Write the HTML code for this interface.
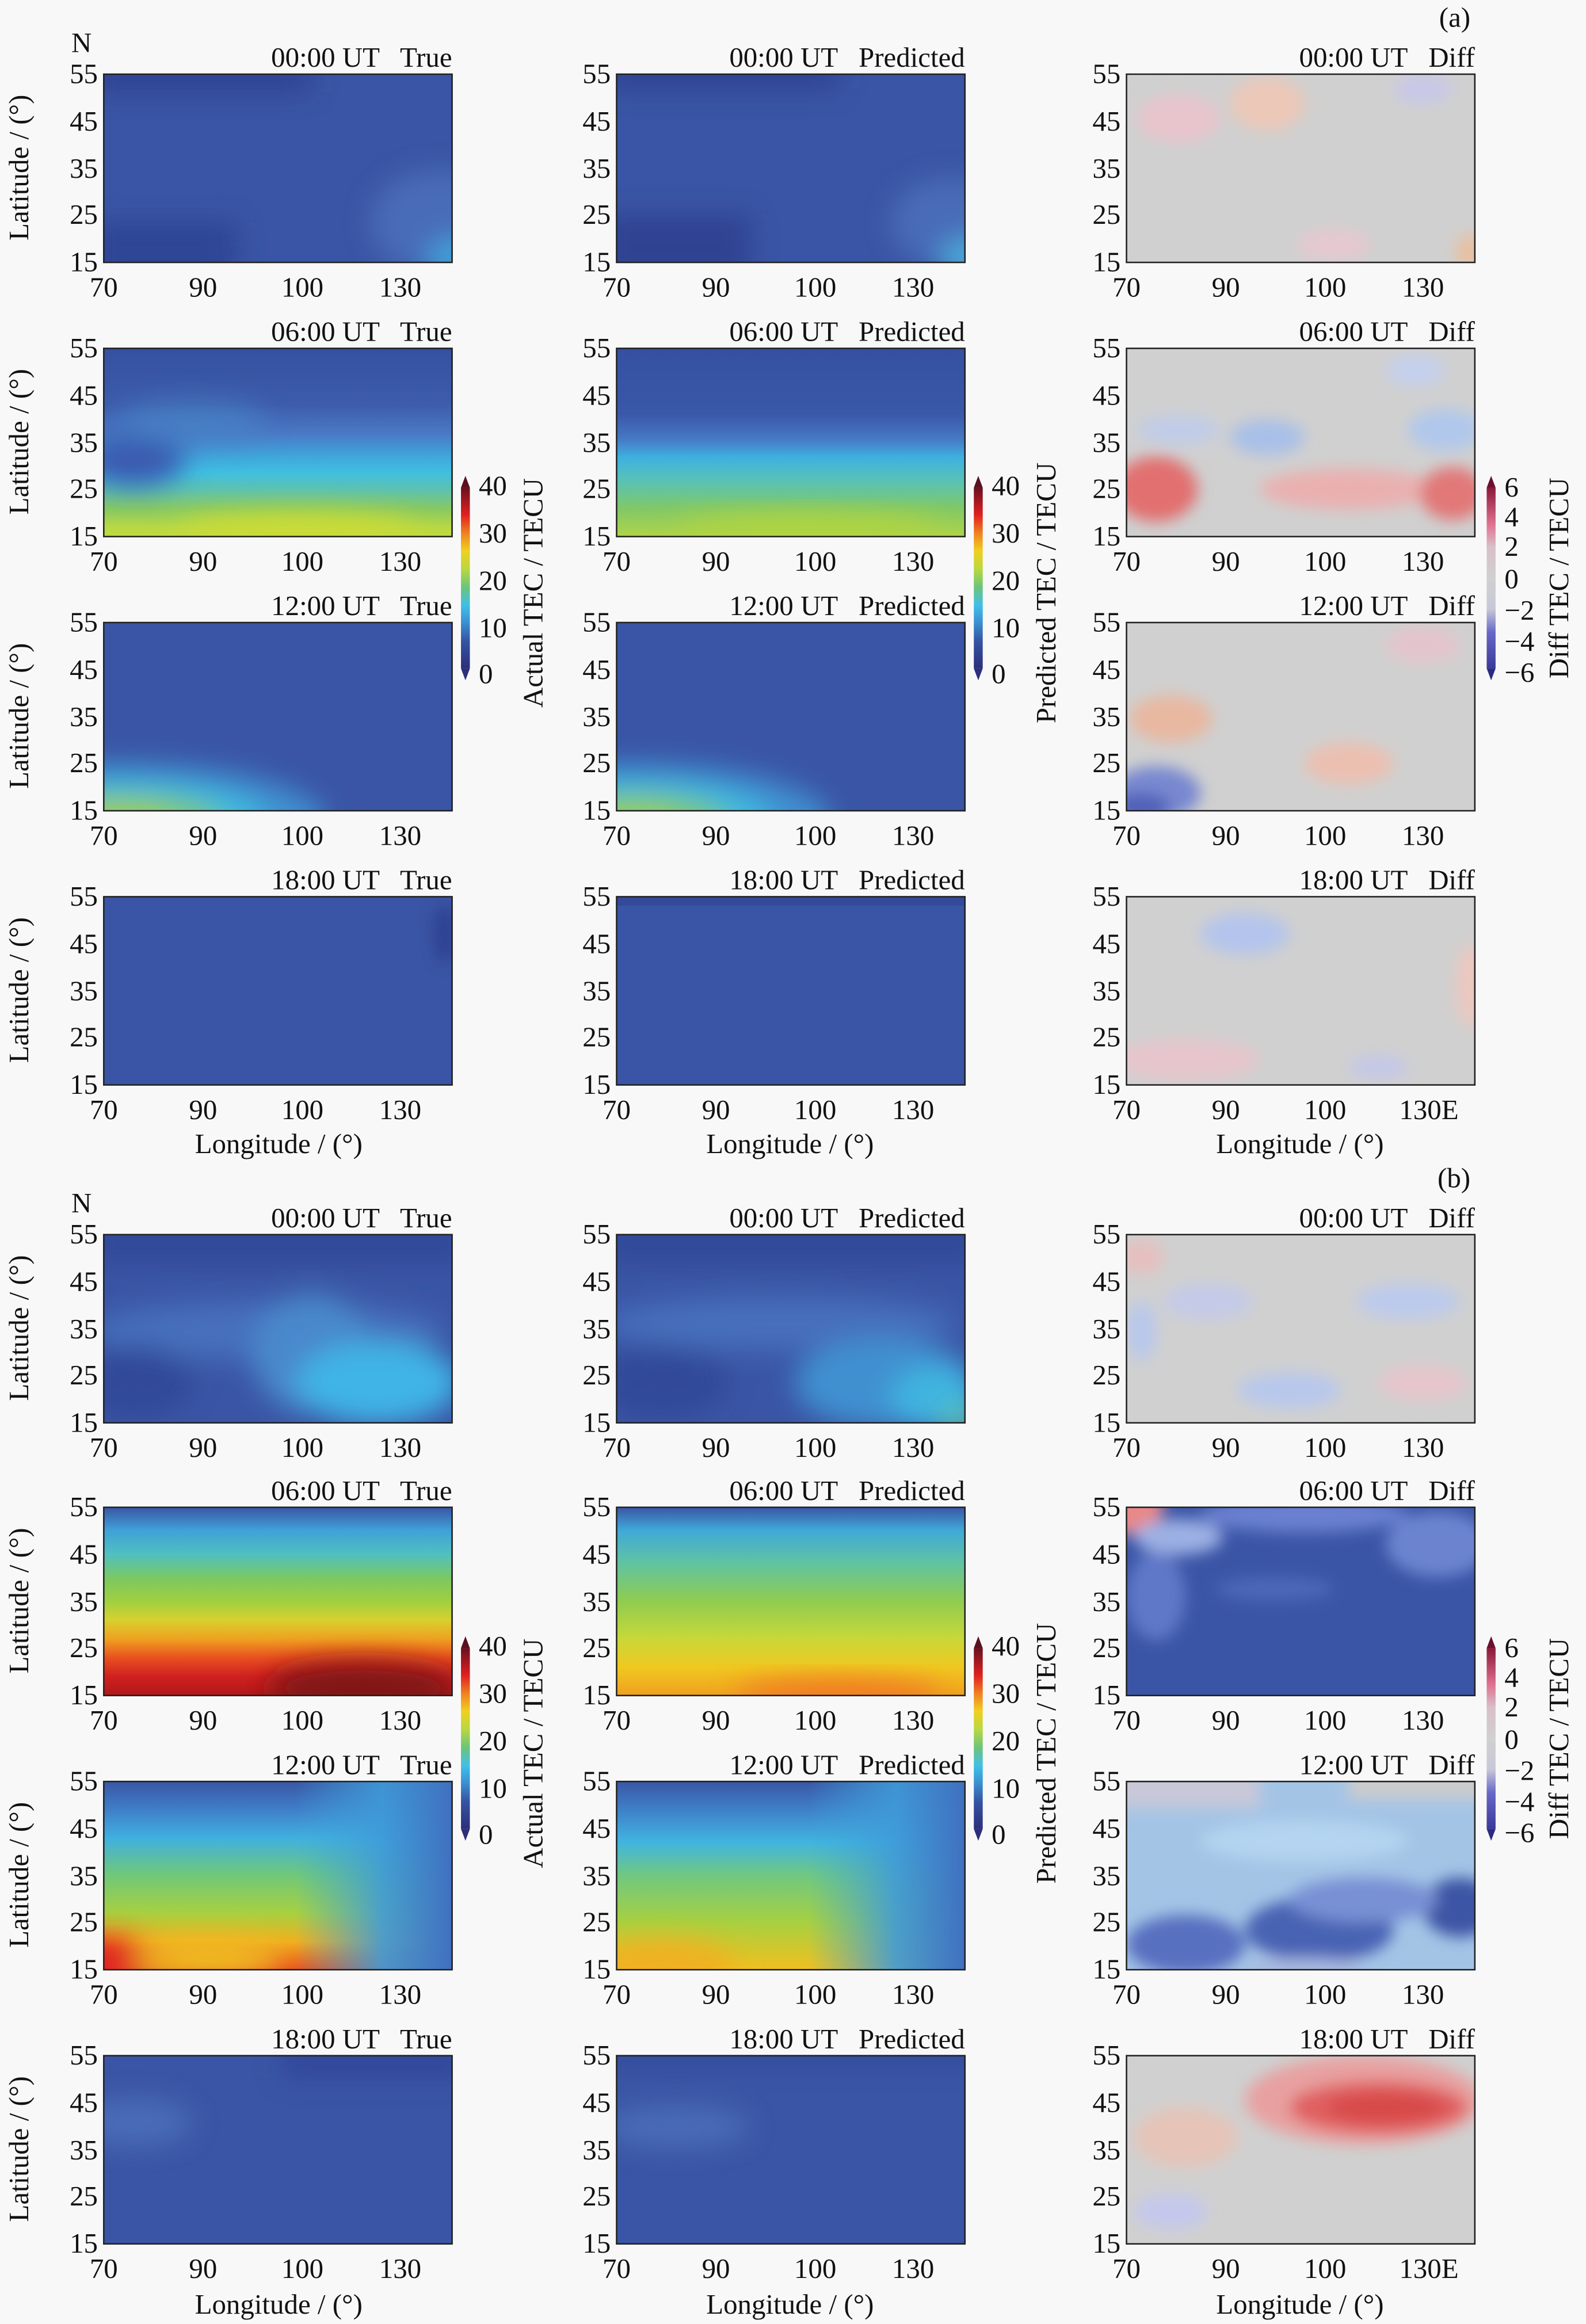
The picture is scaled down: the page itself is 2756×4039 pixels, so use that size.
<!DOCTYPE html>
<html><head><meta charset="utf-8"><style>
html,body{margin:0;padding:0;background:#f8f8f8}
svg{display:block}
text{font-family:"Liberation Serif","Times New Roman",serif;fill:#111;white-space:pre}
.ti{text-anchor:end}
.yl{text-anchor:end}
.xl{text-anchor:middle}
</style></head><body>
<svg width="2756" height="4039" viewBox="0 0 1070 1568" xmlns="http://www.w3.org/2000/svg" font-family="Liberation Serif, serif" xml:space="preserve">
<defs>
<clipPath id="c"><rect x="0" y="0" width="235" height="127"/></clipPath>
<filter id="b" x="-50%" y="-50%" width="200%" height="200%"><feGaussianBlur stdDeviation="9"/></filter>
<filter id="b2" x="-50%" y="-50%" width="200%" height="200%"><feGaussianBlur stdDeviation="5"/></filter>
<linearGradient id="jet" x1="0" y1="1" x2="0" y2="0">
<stop offset="0" stop-color="#2c2f7a"/><stop offset="0.15" stop-color="#3553a3"/><stop offset="0.25" stop-color="#3a8ed0"/><stop offset="0.35" stop-color="#40c0e8"/><stop offset="0.45" stop-color="#6cc47a"/><stop offset="0.55" stop-color="#b8d840"/><stop offset="0.65" stop-color="#f0d020"/><stop offset="0.75" stop-color="#f08020"/><stop offset="0.85" stop-color="#e02020"/><stop offset="1" stop-color="#6a1020"/></linearGradient>
<linearGradient id="dif" x1="0" y1="1" x2="0" y2="0">
<stop offset="0" stop-color="#3a3a9a"/><stop offset="0.2" stop-color="#6868c8"/><stop offset="0.33" stop-color="#c8c8d8"/><stop offset="0.5" stop-color="#d0d0d0"/><stop offset="0.67" stop-color="#d8c0c8"/><stop offset="0.8" stop-color="#e07090"/><stop offset="1" stop-color="#8a1838"/></linearGradient>
<linearGradient id="a2t" x1="0" y1="0" x2="0" y2="1"><stop offset="0" stop-color="#3550a0"/><stop offset="0.3" stop-color="#3d5cab"/><stop offset="0.45" stop-color="#4a78c4"/><stop offset="0.58" stop-color="#3fa8dc"/><stop offset="0.66" stop-color="#40bfe0"/><stop offset="0.75" stop-color="#5cc2b0"/><stop offset="0.85" stop-color="#86c864"/><stop offset="0.95" stop-color="#b8d844"/><stop offset="1" stop-color="#c0da40"/></linearGradient>
<linearGradient id="a2p" x1="0" y1="0" x2="0" y2="1"><stop offset="0" stop-color="#3550a0"/><stop offset="0.35" stop-color="#3a58a8"/><stop offset="0.48" stop-color="#4678c4"/><stop offset="0.58" stop-color="#3fb0e0"/><stop offset="0.7" stop-color="#58c2b8"/><stop offset="0.85" stop-color="#80c868"/><stop offset="1" stop-color="#b0d448"/></linearGradient>
<linearGradient id="b2t" x1="0" y1="0" x2="0" y2="1"><stop offset="0" stop-color="#3a56a5"/><stop offset="0.12" stop-color="#3fa0d8"/><stop offset="0.25" stop-color="#50c0c0"/><stop offset="0.38" stop-color="#7cc860"/><stop offset="0.5" stop-color="#a0d040"/><stop offset="0.6" stop-color="#d8d030"/><stop offset="0.7" stop-color="#f0a020"/><stop offset="0.8" stop-color="#e85020"/><stop offset="0.9" stop-color="#d02020"/><stop offset="1" stop-color="#b01818"/></linearGradient>
<linearGradient id="b2p" x1="0" y1="0" x2="0" y2="1"><stop offset="0" stop-color="#3a56a5"/><stop offset="0.12" stop-color="#40a8d8"/><stop offset="0.3" stop-color="#60c4a0"/><stop offset="0.5" stop-color="#90cc50"/><stop offset="0.7" stop-color="#c8d838"/><stop offset="0.85" stop-color="#f0c820"/><stop offset="1" stop-color="#f0a020"/></linearGradient>
<linearGradient id="b3t" x1="0" y1="0" x2="0" y2="1"><stop offset="0" stop-color="#3a56a5"/><stop offset="0.15" stop-color="#3f7fc8"/><stop offset="0.3" stop-color="#40b0e0"/><stop offset="0.5" stop-color="#70c878"/><stop offset="0.7" stop-color="#a8d040"/><stop offset="0.85" stop-color="#f0b020"/><stop offset="1" stop-color="#e85020"/></linearGradient>
<linearGradient id="b3p" x1="0" y1="0" x2="0" y2="1"><stop offset="0" stop-color="#3a56a5"/><stop offset="0.15" stop-color="#3f80c8"/><stop offset="0.32" stop-color="#40b4e0"/><stop offset="0.5" stop-color="#70c880"/><stop offset="0.75" stop-color="#a8d040"/><stop offset="1" stop-color="#f0c020"/></linearGradient>
<linearGradient id="rs" x1="0" y1="0" x2="1" y2="0"><stop offset="0.55" stop-color="#3fa8dc" stop-opacity="0"/><stop offset="0.8" stop-color="#3f9ad8" stop-opacity="0.9"/><stop offset="1" stop-color="#4070c0"/></linearGradient>
</defs>

<!-- (a) row1 -->
<g transform="translate(70,50)"><g clip-path="url(#c)">
<rect width="235" height="127" fill="#3a55a5"/>
<g filter="url(#b)"><rect x="-10" y="-10" width="150" height="22" fill="#2e4391"/><rect x="-10" y="100" width="100" height="40" fill="#2f4494"/><ellipse cx="225" cy="100" rx="45" ry="35" fill="#4a6cb8"/><ellipse cx="238" cy="125" rx="20" ry="15" fill="#40a0d8"/></g></g>
<rect width="235" height="127" fill="none" stroke="#222" stroke-width="1"/></g>
<g transform="translate(416,50)"><g clip-path="url(#c)">
<rect width="235" height="127" fill="#3a55a5"/>
<g filter="url(#b)"><rect x="-10" y="-10" width="160" height="20" fill="#2e4391"/><rect x="-10" y="95" width="100" height="45" fill="#2d4291"/><ellipse cx="225" cy="100" rx="40" ry="30" fill="#4a6cb8"/><ellipse cx="238" cy="125" rx="20" ry="15" fill="#48a8d8"/></g></g>
<rect width="235" height="127" fill="none" stroke="#222"/></g>
<g transform="translate(760,50)"><g clip-path="url(#c)">
<rect width="235" height="127" fill="#d0d0d0"/>
<g filter="url(#b2)"><ellipse cx="35" cy="30" rx="28" ry="16" fill="#e8c4cc"/><ellipse cx="95" cy="20" rx="25" ry="18" fill="#ecc8b8"/><ellipse cx="200" cy="10" rx="20" ry="10" fill="#c8c8e8"/><ellipse cx="140" cy="115" rx="25" ry="10" fill="#e6c8d0"/><ellipse cx="232" cy="120" rx="10" ry="12" fill="#e8c0a0"/></g></g>
<rect width="235" height="127" fill="none" stroke="#222"/></g>

<!-- (a) row2 -->
<g transform="translate(70,235)"><g clip-path="url(#c)">
<rect width="235" height="127" fill="url(#a2t)"/>
<g filter="url(#b)"><ellipse cx="20" cy="75" rx="35" ry="18" fill="#3a5ab0"/><ellipse cx="60" cy="50" rx="50" ry="14" fill="#4685c8" opacity="0.7"/><ellipse cx="130" cy="122" rx="80" ry="10" fill="#ccdc34"/></g></g>
<rect width="235" height="127" fill="none" stroke="#222"/></g>
<g transform="translate(416,235)"><g clip-path="url(#c)">
<rect width="235" height="127" fill="url(#a2p)"/>
<g filter="url(#b)"><ellipse cx="130" cy="122" rx="90" ry="10" fill="#b0d440"/></g></g>
<rect width="235" height="127" fill="none" stroke="#222"/></g>
<g transform="translate(760,235)"><g clip-path="url(#c)">
<rect width="235" height="127" fill="#d0d0d0"/>
<g filter="url(#b2)"><ellipse cx="20" cy="95" rx="28" ry="22" fill="#e27070"/><ellipse cx="150" cy="95" rx="60" ry="14" fill="#eab0b0"/><ellipse cx="220" cy="98" rx="22" ry="18" fill="#e27878"/><ellipse cx="95" cy="60" rx="25" ry="12" fill="#a8c0e8"/><ellipse cx="215" cy="55" rx="25" ry="14" fill="#b0c8ec"/><ellipse cx="35" cy="55" rx="28" ry="10" fill="#c0cce8"/><ellipse cx="195" cy="15" rx="20" ry="10" fill="#c4d0ee"/></g></g>
<rect width="235" height="127" fill="none" stroke="#222"/></g>

<!-- (a) row3 -->
<g transform="translate(70,420)"><g clip-path="url(#c)">
<rect width="235" height="127" fill="#3a55a5"/>
<g filter="url(#b)"><ellipse cx="10" cy="135" rx="140" ry="40" fill="#3f90d0"/><ellipse cx="10" cy="135" rx="100" ry="28" fill="#40bce0"/><ellipse cx="10" cy="135" rx="70" ry="18" fill="#7cc860"/><ellipse cx="10" cy="135" rx="40" ry="10" fill="#a8d040"/></g></g>
<rect width="235" height="127" fill="none" stroke="#222"/></g>
<g transform="translate(416,420)"><g clip-path="url(#c)">
<rect width="235" height="127" fill="#3a55a5"/>
<g filter="url(#b)"><ellipse cx="10" cy="135" rx="135" ry="40" fill="#3f90d0"/><ellipse cx="10" cy="135" rx="95" ry="28" fill="#40bce0"/><ellipse cx="10" cy="135" rx="65" ry="18" fill="#7cc860"/><ellipse cx="10" cy="135" rx="35" ry="10" fill="#a0d040"/></g></g>
<rect width="235" height="127" fill="none" stroke="#222"/></g>
<g transform="translate(760,420)"><g clip-path="url(#c)">
<rect width="235" height="127" fill="#d0d0d0"/>
<g filter="url(#b2)"><ellipse cx="30" cy="65" rx="28" ry="16" fill="#e8b8a0"/><ellipse cx="20" cy="115" rx="30" ry="18" fill="#7888d0"/><ellipse cx="10" cy="125" rx="20" ry="10" fill="#5060b8"/><ellipse cx="150" cy="95" rx="30" ry="14" fill="#ecc0b0"/><ellipse cx="200" cy="15" rx="25" ry="12" fill="#e4c4cc"/></g></g>
<rect width="235" height="127" fill="none" stroke="#222"/></g>

<!-- (a) row4 -->
<g transform="translate(70,605)"><g clip-path="url(#c)">
<rect width="235" height="127" fill="#3a55a5"/>
<g filter="url(#b2)"><ellipse cx="230" cy="25" rx="8" ry="20" fill="#2e4391"/></g></g>
<rect width="235" height="127" fill="none" stroke="#222"/></g>
<g transform="translate(416,605)"><g clip-path="url(#c)">
<rect width="235" height="127" fill="#3a55a5"/><rect width="235" height="6" fill="#33499a"/></g>
<rect width="235" height="127" fill="none" stroke="#222"/></g>
<g transform="translate(760,605)"><g clip-path="url(#c)">
<rect width="235" height="127" fill="#d0d0d0"/>
<g filter="url(#b2)"><ellipse cx="80" cy="25" rx="30" ry="14" fill="#b4c4ec"/><ellipse cx="40" cy="110" rx="50" ry="14" fill="#e6c6cc"/><ellipse cx="232" cy="60" rx="10" ry="28" fill="#ecc8c0"/><ellipse cx="170" cy="115" rx="20" ry="8" fill="#c4c8e8"/></g></g>
<rect width="235" height="127" fill="none" stroke="#222"/></g>

<!-- (b) row1 -->
<g transform="translate(70,833)"><g clip-path="url(#c)">
<rect width="235" height="127" fill="#3a55a5"/>
<g filter="url(#b)"><rect x="-10" y="-10" width="260" height="30" fill="#33489a"/><ellipse cx="110" cy="65" rx="120" ry="20" fill="#4670bc"/><ellipse cx="140" cy="80" rx="40" ry="40" fill="#4a88cc"/><ellipse cx="185" cy="100" rx="55" ry="28" fill="#40b4e6"/><ellipse cx="20" cy="100" rx="40" ry="25" fill="#33489a"/></g></g>
<rect width="235" height="127" fill="none" stroke="#222"/></g>
<g transform="translate(416,833)"><g clip-path="url(#c)">
<rect width="235" height="127" fill="#3a55a5"/>
<g filter="url(#b)"><rect x="-10" y="-10" width="260" height="30" fill="#33489a"/><ellipse cx="110" cy="60" rx="120" ry="18" fill="#4670bc"/><ellipse cx="180" cy="100" rx="60" ry="30" fill="#3f90d0"/><ellipse cx="215" cy="110" rx="30" ry="22" fill="#40b4e0"/><ellipse cx="232" cy="125" rx="15" ry="10" fill="#58c0b0"/><ellipse cx="30" cy="100" rx="45" ry="25" fill="#33489a"/></g></g>
<rect width="235" height="127" fill="none" stroke="#222"/></g>
<g transform="translate(760,833)"><g clip-path="url(#c)">
<rect width="235" height="127" fill="#d0d0d0"/>
<g filter="url(#b2)"><ellipse cx="10" cy="15" rx="15" ry="12" fill="#e6c0c0"/><ellipse cx="55" cy="45" rx="30" ry="12" fill="#c4cae8"/><ellipse cx="10" cy="65" rx="10" ry="20" fill="#b8c8ec"/><ellipse cx="110" cy="105" rx="35" ry="12" fill="#b8c8ec"/><ellipse cx="190" cy="45" rx="35" ry="12" fill="#bccaec"/><ellipse cx="200" cy="100" rx="30" ry="12" fill="#e6c6cc"/></g></g>
<rect width="235" height="127" fill="none" stroke="#222"/></g>

<!-- (b) row2 -->
<g transform="translate(70,1017)"><g clip-path="url(#c)">
<rect width="235" height="127" fill="url(#b2t)"/>
<g filter="url(#b)"><ellipse cx="175" cy="122" rx="65" ry="18" fill="#801414"/></g></g>
<rect width="235" height="127" fill="none" stroke="#222"/></g>
<g transform="translate(416,1017)"><g clip-path="url(#c)">
<rect width="235" height="127" fill="url(#b2p)"/>
<g filter="url(#b)"><ellipse cx="150" cy="126" rx="70" ry="10" fill="#f07820"/></g></g>
<rect width="235" height="127" fill="none" stroke="#222"/></g>
<g transform="translate(760,1017)"><g clip-path="url(#c)">
<rect width="235" height="127" fill="#3b55a6"/>
<g filter="url(#b2)"><ellipse cx="0" cy="0" rx="25" ry="18" fill="#e88888"/><ellipse cx="35" cy="20" rx="30" ry="12" fill="#9cb0e4"/><ellipse cx="120" cy="5" rx="70" ry="12" fill="#6a80d0"/><ellipse cx="210" cy="25" rx="35" ry="22" fill="#6c84d0"/><ellipse cx="20" cy="60" rx="20" ry="30" fill="#5e78c8"/><ellipse cx="100" cy="55" rx="40" ry="8" fill="#4e68b8"/></g></g>
<rect width="235" height="127" fill="none" stroke="#222"/></g>

<!-- (b) row3 -->
<g transform="translate(70,1202)"><g clip-path="url(#c)">
<rect width="235" height="127" fill="url(#b3t)"/>
<rect width="235" height="127" fill="url(#rs)"/>
<g filter="url(#b)"><ellipse cx="0" cy="130" rx="45" ry="25" fill="#e02820"/><ellipse cx="70" cy="120" rx="50" ry="12" fill="#f0c020"/></g></g>
<rect width="235" height="127" fill="none" stroke="#222"/></g>
<g transform="translate(416,1202)"><g clip-path="url(#c)">
<rect width="235" height="127" fill="url(#b3p)"/>
<rect width="235" height="127" fill="url(#rs)"/>
<g filter="url(#b)"><ellipse cx="30" cy="125" rx="50" ry="18" fill="#f0b020"/></g></g>
<rect width="235" height="127" fill="none" stroke="#222"/></g>
<g transform="translate(760,1202)"><g clip-path="url(#c)">
<rect width="235" height="127" fill="#a4c4e6"/>
<g filter="url(#b2)"><rect x="-10" y="-10" width="100" height="28" fill="#c8c8d8"/><rect x="150" y="-10" width="100" height="22" fill="#cccccc"/><ellipse cx="120" cy="40" rx="70" ry="14" fill="#b4d4f0"/><ellipse cx="40" cy="110" rx="40" ry="20" fill="#5870c0"/><ellipse cx="130" cy="100" rx="50" ry="22" fill="#4a64b4"/><ellipse cx="225" cy="85" rx="25" ry="20" fill="#3c55a5"/><ellipse cx="160" cy="80" rx="50" ry="15" fill="#7890d4"/><ellipse cx="120" cy="125" rx="40" ry="6" fill="#a8b8e0"/></g></g>
<rect width="235" height="127" fill="none" stroke="#222"/></g>

<!-- (b) row4 -->
<g transform="translate(70,1387)"><g clip-path="url(#c)">
<rect width="235" height="127" fill="#3a55a5"/>
<g filter="url(#b)"><ellipse cx="20" cy="45" rx="40" ry="16" fill="#4a6cb8"/><rect x="120" y="-10" width="130" height="25" fill="#30469a"/></g></g>
<rect width="235" height="127" fill="none" stroke="#222"/></g>
<g transform="translate(416,1387)"><g clip-path="url(#c)">
<rect width="235" height="127" fill="#3a55a5"/>
<g filter="url(#b)"><ellipse cx="40" cy="48" rx="50" ry="14" fill="#4a6cb8"/><rect x="-10" y="-10" width="260" height="16" fill="#33489a"/></g></g>
<rect width="235" height="127" fill="none" stroke="#222"/></g>
<g transform="translate(760,1387)"><g clip-path="url(#c)">
<rect width="235" height="127" fill="#d0d0d0"/>
<g filter="url(#b2)"><ellipse cx="160" cy="30" rx="80" ry="30" fill="#e8a0a0"/><ellipse cx="170" cy="35" rx="60" ry="18" fill="#e06060"/><ellipse cx="175" cy="35" rx="40" ry="10" fill="#d84848"/><ellipse cx="40" cy="55" rx="35" ry="20" fill="#e6c4b8"/><ellipse cx="30" cy="105" rx="25" ry="12" fill="#c4c8ec"/></g></g>
<rect width="235" height="127" fill="none" stroke="#222"/></g>

<g font-size="19" font-family="Liberation Serif, serif">
<g transform="translate(70,50)"><text class="ti" x="235" y="-5">00:00 UT   True</text><text x="-4" y="6" class="yl">55</text><text x="-4" y="38" class="yl">45</text><text x="-4" y="70" class="yl">35</text><text x="-4" y="101" class="yl">25</text><text x="-4" y="133" class="yl">15</text><text x="0" y="150" class="xl">70</text><text x="67" y="150" class="xl">90</text><text x="134" y="150" class="xl">100</text><text x="200" y="150" class="xl">130</text></g>
<g transform="translate(416,50)"><text class="ti" x="235" y="-5">00:00 UT   Predicted</text><text x="-4" y="6" class="yl">55</text><text x="-4" y="38" class="yl">45</text><text x="-4" y="70" class="yl">35</text><text x="-4" y="101" class="yl">25</text><text x="-4" y="133" class="yl">15</text><text x="0" y="150" class="xl">70</text><text x="67" y="150" class="xl">90</text><text x="134" y="150" class="xl">100</text><text x="200" y="150" class="xl">130</text></g>
<g transform="translate(760,50)"><text class="ti" x="235" y="-5">00:00 UT   Diff</text><text x="-4" y="6" class="yl">55</text><text x="-4" y="38" class="yl">45</text><text x="-4" y="70" class="yl">35</text><text x="-4" y="101" class="yl">25</text><text x="-4" y="133" class="yl">15</text><text x="0" y="150" class="xl">70</text><text x="67" y="150" class="xl">90</text><text x="134" y="150" class="xl">100</text><text x="200" y="150" class="xl">130</text></g>

<g transform="translate(70,235)"><text class="ti" x="235" y="-5">06:00 UT   True</text><text x="-4" y="6" class="yl">55</text><text x="-4" y="38" class="yl">45</text><text x="-4" y="70" class="yl">35</text><text x="-4" y="101" class="yl">25</text><text x="-4" y="133" class="yl">15</text><text x="0" y="150" class="xl">70</text><text x="67" y="150" class="xl">90</text><text x="134" y="150" class="xl">100</text><text x="200" y="150" class="xl">130</text></g>
<g transform="translate(416,235)"><text class="ti" x="235" y="-5">06:00 UT   Predicted</text><text x="-4" y="6" class="yl">55</text><text x="-4" y="38" class="yl">45</text><text x="-4" y="70" class="yl">35</text><text x="-4" y="101" class="yl">25</text><text x="-4" y="133" class="yl">15</text><text x="0" y="150" class="xl">70</text><text x="67" y="150" class="xl">90</text><text x="134" y="150" class="xl">100</text><text x="200" y="150" class="xl">130</text></g>
<g transform="translate(760,235)"><text class="ti" x="235" y="-5">06:00 UT   Diff</text><text x="-4" y="6" class="yl">55</text><text x="-4" y="38" class="yl">45</text><text x="-4" y="70" class="yl">35</text><text x="-4" y="101" class="yl">25</text><text x="-4" y="133" class="yl">15</text><text x="0" y="150" class="xl">70</text><text x="67" y="150" class="xl">90</text><text x="134" y="150" class="xl">100</text><text x="200" y="150" class="xl">130</text></g>

<g transform="translate(70,420)"><text class="ti" x="235" y="-5">12:00 UT   True</text><text x="-4" y="6" class="yl">55</text><text x="-4" y="38" class="yl">45</text><text x="-4" y="70" class="yl">35</text><text x="-4" y="101" class="yl">25</text><text x="-4" y="133" class="yl">15</text><text x="0" y="150" class="xl">70</text><text x="67" y="150" class="xl">90</text><text x="134" y="150" class="xl">100</text><text x="200" y="150" class="xl">130</text></g>
<g transform="translate(416,420)"><text class="ti" x="235" y="-5">12:00 UT   Predicted</text><text x="-4" y="6" class="yl">55</text><text x="-4" y="38" class="yl">45</text><text x="-4" y="70" class="yl">35</text><text x="-4" y="101" class="yl">25</text><text x="-4" y="133" class="yl">15</text><text x="0" y="150" class="xl">70</text><text x="67" y="150" class="xl">90</text><text x="134" y="150" class="xl">100</text><text x="200" y="150" class="xl">130</text></g>
<g transform="translate(760,420)"><text class="ti" x="235" y="-5">12:00 UT   Diff</text><text x="-4" y="6" class="yl">55</text><text x="-4" y="38" class="yl">45</text><text x="-4" y="70" class="yl">35</text><text x="-4" y="101" class="yl">25</text><text x="-4" y="133" class="yl">15</text><text x="0" y="150" class="xl">70</text><text x="67" y="150" class="xl">90</text><text x="134" y="150" class="xl">100</text><text x="200" y="150" class="xl">130</text></g>

<g transform="translate(70,605)"><text class="ti" x="235" y="-5">18:00 UT   True</text><text x="-4" y="6" class="yl">55</text><text x="-4" y="38" class="yl">45</text><text x="-4" y="70" class="yl">35</text><text x="-4" y="101" class="yl">25</text><text x="-4" y="133" class="yl">15</text><text x="0" y="150" class="xl">70</text><text x="67" y="150" class="xl">90</text><text x="134" y="150" class="xl">100</text><text x="200" y="150" class="xl">130</text></g>
<g transform="translate(416,605)"><text class="ti" x="235" y="-5">18:00 UT   Predicted</text><text x="-4" y="6" class="yl">55</text><text x="-4" y="38" class="yl">45</text><text x="-4" y="70" class="yl">35</text><text x="-4" y="101" class="yl">25</text><text x="-4" y="133" class="yl">15</text><text x="0" y="150" class="xl">70</text><text x="67" y="150" class="xl">90</text><text x="134" y="150" class="xl">100</text><text x="200" y="150" class="xl">130</text></g>
<g transform="translate(760,605)"><text class="ti" x="235" y="-5">18:00 UT   Diff</text><text x="-4" y="6" class="yl">55</text><text x="-4" y="38" class="yl">45</text><text x="-4" y="70" class="yl">35</text><text x="-4" y="101" class="yl">25</text><text x="-4" y="133" class="yl">15</text><text x="0" y="150" class="xl">70</text><text x="67" y="150" class="xl">90</text><text x="134" y="150" class="xl">100</text><text x="204" y="150" class="xl">130E</text></g>

<g transform="translate(70,833)"><text class="ti" x="235" y="-5">00:00 UT   True</text><text x="-4" y="6" class="yl">55</text><text x="-4" y="38" class="yl">45</text><text x="-4" y="70" class="yl">35</text><text x="-4" y="101" class="yl">25</text><text x="-4" y="133" class="yl">15</text><text x="0" y="150" class="xl">70</text><text x="67" y="150" class="xl">90</text><text x="134" y="150" class="xl">100</text><text x="200" y="150" class="xl">130</text></g>
<g transform="translate(416,833)"><text class="ti" x="235" y="-5">00:00 UT   Predicted</text><text x="-4" y="6" class="yl">55</text><text x="-4" y="38" class="yl">45</text><text x="-4" y="70" class="yl">35</text><text x="-4" y="101" class="yl">25</text><text x="-4" y="133" class="yl">15</text><text x="0" y="150" class="xl">70</text><text x="67" y="150" class="xl">90</text><text x="134" y="150" class="xl">100</text><text x="200" y="150" class="xl">130</text></g>
<g transform="translate(760,833)"><text class="ti" x="235" y="-5">00:00 UT   Diff</text><text x="-4" y="6" class="yl">55</text><text x="-4" y="38" class="yl">45</text><text x="-4" y="70" class="yl">35</text><text x="-4" y="101" class="yl">25</text><text x="-4" y="133" class="yl">15</text><text x="0" y="150" class="xl">70</text><text x="67" y="150" class="xl">90</text><text x="134" y="150" class="xl">100</text><text x="200" y="150" class="xl">130</text></g>

<g transform="translate(70,1017)"><text class="ti" x="235" y="-5">06:00 UT   True</text><text x="-4" y="6" class="yl">55</text><text x="-4" y="38" class="yl">45</text><text x="-4" y="70" class="yl">35</text><text x="-4" y="101" class="yl">25</text><text x="-4" y="133" class="yl">15</text><text x="0" y="150" class="xl">70</text><text x="67" y="150" class="xl">90</text><text x="134" y="150" class="xl">100</text><text x="200" y="150" class="xl">130</text></g>
<g transform="translate(416,1017)"><text class="ti" x="235" y="-5">06:00 UT   Predicted</text><text x="-4" y="6" class="yl">55</text><text x="-4" y="38" class="yl">45</text><text x="-4" y="70" class="yl">35</text><text x="-4" y="101" class="yl">25</text><text x="-4" y="133" class="yl">15</text><text x="0" y="150" class="xl">70</text><text x="67" y="150" class="xl">90</text><text x="134" y="150" class="xl">100</text><text x="200" y="150" class="xl">130</text></g>
<g transform="translate(760,1017)"><text class="ti" x="235" y="-5">06:00 UT   Diff</text><text x="-4" y="6" class="yl">55</text><text x="-4" y="38" class="yl">45</text><text x="-4" y="70" class="yl">35</text><text x="-4" y="101" class="yl">25</text><text x="-4" y="133" class="yl">15</text><text x="0" y="150" class="xl">70</text><text x="67" y="150" class="xl">90</text><text x="134" y="150" class="xl">100</text><text x="200" y="150" class="xl">130</text></g>

<g transform="translate(70,1202)"><text class="ti" x="235" y="-5">12:00 UT   True</text><text x="-4" y="6" class="yl">55</text><text x="-4" y="38" class="yl">45</text><text x="-4" y="70" class="yl">35</text><text x="-4" y="101" class="yl">25</text><text x="-4" y="133" class="yl">15</text><text x="0" y="150" class="xl">70</text><text x="67" y="150" class="xl">90</text><text x="134" y="150" class="xl">100</text><text x="200" y="150" class="xl">130</text></g>
<g transform="translate(416,1202)"><text class="ti" x="235" y="-5">12:00 UT   Predicted</text><text x="-4" y="6" class="yl">55</text><text x="-4" y="38" class="yl">45</text><text x="-4" y="70" class="yl">35</text><text x="-4" y="101" class="yl">25</text><text x="-4" y="133" class="yl">15</text><text x="0" y="150" class="xl">70</text><text x="67" y="150" class="xl">90</text><text x="134" y="150" class="xl">100</text><text x="200" y="150" class="xl">130</text></g>
<g transform="translate(760,1202)"><text class="ti" x="235" y="-5">12:00 UT   Diff</text><text x="-4" y="6" class="yl">55</text><text x="-4" y="38" class="yl">45</text><text x="-4" y="70" class="yl">35</text><text x="-4" y="101" class="yl">25</text><text x="-4" y="133" class="yl">15</text><text x="0" y="150" class="xl">70</text><text x="67" y="150" class="xl">90</text><text x="134" y="150" class="xl">100</text><text x="200" y="150" class="xl">130</text></g>

<g transform="translate(70,1387)"><text class="ti" x="235" y="-5">18:00 UT   True</text><text x="-4" y="6" class="yl">55</text><text x="-4" y="38" class="yl">45</text><text x="-4" y="70" class="yl">35</text><text x="-4" y="101" class="yl">25</text><text x="-4" y="133" class="yl">15</text><text x="0" y="150" class="xl">70</text><text x="67" y="150" class="xl">90</text><text x="134" y="150" class="xl">100</text><text x="200" y="150" class="xl">130</text></g>
<g transform="translate(416,1387)"><text class="ti" x="235" y="-5">18:00 UT   Predicted</text><text x="-4" y="6" class="yl">55</text><text x="-4" y="38" class="yl">45</text><text x="-4" y="70" class="yl">35</text><text x="-4" y="101" class="yl">25</text><text x="-4" y="133" class="yl">15</text><text x="0" y="150" class="xl">70</text><text x="67" y="150" class="xl">90</text><text x="134" y="150" class="xl">100</text><text x="200" y="150" class="xl">130</text></g>
<g transform="translate(760,1387)"><text class="ti" x="235" y="-5">18:00 UT   Diff</text><text x="-4" y="6" class="yl">55</text><text x="-4" y="38" class="yl">45</text><text x="-4" y="70" class="yl">35</text><text x="-4" y="101" class="yl">25</text><text x="-4" y="133" class="yl">15</text><text x="0" y="150" class="xl">70</text><text x="67" y="150" class="xl">90</text><text x="134" y="150" class="xl">100</text><text x="204" y="150" class="xl">130E</text></g>

<text x="55" y="35" text-anchor="middle">N</text>
<text x="55" y="818" text-anchor="middle">N</text>
<text x="992" y="18" text-anchor="end">(a)</text>
<text x="992" y="801" text-anchor="end">(b)</text>

<text transform="translate(19,113) rotate(-90)" text-anchor="middle">Latitude / (°)</text>
<text transform="translate(19,298) rotate(-90)" text-anchor="middle">Latitude / (°)</text>
<text transform="translate(19,483) rotate(-90)" text-anchor="middle">Latitude / (°)</text>
<text transform="translate(19,668) rotate(-90)" text-anchor="middle">Latitude / (°)</text>
<text transform="translate(19,896) rotate(-90)" text-anchor="middle">Latitude / (°)</text>
<text transform="translate(19,1080) rotate(-90)" text-anchor="middle">Latitude / (°)</text>
<text transform="translate(19,1265) rotate(-90)" text-anchor="middle">Latitude / (°)</text>
<text transform="translate(19,1450) rotate(-90)" text-anchor="middle">Latitude / (°)</text>

<text x="188" y="778" text-anchor="middle">Longitude / (°)</text>
<text x="533" y="778" text-anchor="middle">Longitude / (°)</text>
<text x="877" y="778" text-anchor="middle">Longitude / (°)</text>
<text x="188" y="1561" text-anchor="middle">Longitude / (°)</text>
<text x="533" y="1561" text-anchor="middle">Longitude / (°)</text>
<text x="877" y="1561" text-anchor="middle">Longitude / (°)</text>

<g transform="translate(311,0)">
<rect x="0" y="329" width="6" height="122" fill="url(#jet)"/><polygon points="0,329 6,329 3,321" fill="#5a1020"/><polygon points="0,451 6,451 3,459" fill="#2c2f7a"/>
<text x="12" y="461">0</text><text x="12" y="430">10</text><text x="12" y="398">20</text><text x="12" y="366">30</text><text x="12" y="334">40</text>
<text transform="translate(55,400) rotate(-90)" text-anchor="middle">Actual TEC / TECU</text></g>
<g transform="translate(657,0)">
<rect x="0" y="329" width="6" height="122" fill="url(#jet)"/><polygon points="0,329 6,329 3,321" fill="#5a1020"/><polygon points="0,451 6,451 3,459" fill="#2c2f7a"/>
<text x="12" y="461">0</text><text x="12" y="430">10</text><text x="12" y="398">20</text><text x="12" y="366">30</text><text x="12" y="334">40</text>
<text transform="translate(55,400) rotate(-90)" text-anchor="middle">Predicted TEC / TECU</text></g>
<g transform="translate(1003,0)">
<rect x="0" y="329" width="6" height="122" fill="url(#dif)"/><polygon points="0,329 6,329 3,321" fill="#6a1030"/><polygon points="0,451 6,451 3,459" fill="#2c2c80"/>
<text x="12" y="335">6</text><text x="12" y="355">4</text><text x="12" y="375">2</text><text x="12" y="397">0</text><text x="12" y="418">−2</text><text x="12" y="439">−4</text><text x="12" y="460">−6</text>
<text transform="translate(55,390) rotate(-90)" text-anchor="middle">Diff TEC / TECU</text></g>
<g transform="translate(311,783)">
<rect x="0" y="329" width="6" height="122" fill="url(#jet)"/><polygon points="0,329 6,329 3,321" fill="#5a1020"/><polygon points="0,451 6,451 3,459" fill="#2c2f7a"/>
<text x="12" y="461">0</text><text x="12" y="430">10</text><text x="12" y="398">20</text><text x="12" y="366">30</text><text x="12" y="334">40</text>
<text transform="translate(55,400) rotate(-90)" text-anchor="middle">Actual TEC / TECU</text></g>
<g transform="translate(657,783)">
<rect x="0" y="329" width="6" height="122" fill="url(#jet)"/><polygon points="0,329 6,329 3,321" fill="#5a1020"/><polygon points="0,451 6,451 3,459" fill="#2c2f7a"/>
<text x="12" y="461">0</text><text x="12" y="430">10</text><text x="12" y="398">20</text><text x="12" y="366">30</text><text x="12" y="334">40</text>
<text transform="translate(55,400) rotate(-90)" text-anchor="middle">Predicted TEC / TECU</text></g>
<g transform="translate(1003,783)">
<rect x="0" y="329" width="6" height="122" fill="url(#dif)"/><polygon points="0,329 6,329 3,321" fill="#6a1030"/><polygon points="0,451 6,451 3,459" fill="#2c2c80"/>
<text x="12" y="335">6</text><text x="12" y="355">4</text><text x="12" y="375">2</text><text x="12" y="397">0</text><text x="12" y="418">−2</text><text x="12" y="439">−4</text><text x="12" y="460">−6</text>
<text transform="translate(55,390) rotate(-90)" text-anchor="middle">Diff TEC / TECU</text></g>
</g>
</svg>
</body></html>
